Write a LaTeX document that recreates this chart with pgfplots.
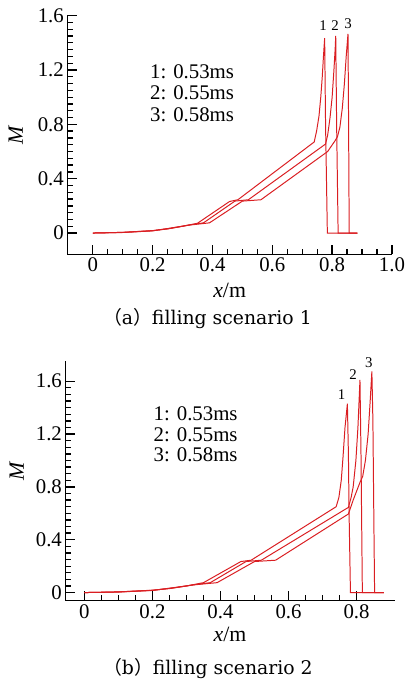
\documentclass[border=0pt]{standalone}
\usepackage{fontspec}
\setmainfont{Liberation Serif}
\newfontfamily\capfont{DejaVu Serif}
\newfontfamily\cjk{Noto Sans CJK SC}
\usepackage{pgfplots}
\pgfplotsset{compat=1.18}

\definecolor{curve}{RGB}{218,30,34}

\pgfplotsset{
  mplot/.style={
    scale only axis,
    anchor=south west,
    clip=false,
    axis line style={line width=1.1pt},
    xtick pos=left, ytick pos=left,
    major tick length=0.35cm, minor tick length=0.2cm,
    every tick/.append style={black, line width=1.3pt},
    minor x tick num=3, minor y tick num=7,
    ytick={0,0.4,0.8,1.2,1.6},
    yticklabels={0,0.4,0.8,1.2,1.6},
    /pgf/number format/assume math mode=true,
    tick label style={font=\fontsize{21}{24}\selectfont},
    label style={font=\fontsize{22}{24}\selectfont},
    xlabel={\textit{x}/m}, ylabel={\textit{M}},
    every axis plot post/.append style={color=curve, line width=1pt, mark=none},
  },
}

\begin{document}
\begin{tikzpicture}
\path (0bp,0bp) rectangle (407bp,682bp);

% (a) filling scenario 1
\begin{axis}[mplot,
  at={(67.7bp,426.3bp)}, width=326.3bp, height=240bp,
  xmin=-0.085, xmax=1.0, ymin=-0.157, ymax=1.6,
  xtick={0,0.2,0.4,0.6,0.8,1.0},
  xticklabels={0,0.2,0.4,0.6,0.8,1.0},
  xlabel style={at={(axis description cs:0.5,0)}, anchor=center, yshift=-36bp},
  ylabel style={at={(axis description cs:0,0.5)}, anchor=center, yshift=52bp},
  axis x line*=bottom, axis y line*=left,
]
\addplot coordinates {(0,0) (0.1,0.005) (0.2,0.018) (0.25,0.03) (0.3,0.05) (0.35,0.072)
  (0.457,0.232) (0.485,0.245) (0.74,0.67) (0.748,0.75) (0.756,0.86) (0.762,1.0)
  (0.767,1.15) (0.771,1.3) (0.775,1.435) (0.778,0.8) (0.784,0) (0.884,0)};
\addplot coordinates {(0,0) (0.1,0.005) (0.2,0.017) (0.26,0.035) (0.3,0.05) (0.33,0.062)
  (0.37,0.075) (0.475,0.235) (0.52,0.245) (0.778,0.655) (0.785,0.72) (0.793,0.85)
  (0.8,1.0) (0.806,1.2) (0.81,1.35) (0.812,1.45) (0.815,0.8) (0.82,0) (0.884,0)};
\addplot coordinates {(0,0) (0.1,0.004) (0.2,0.016) (0.27,0.04) (0.32,0.058) (0.39,0.075)
  (0.50,0.235) (0.562,0.245) (0.785,0.6) (0.81,0.68) (0.818,0.71) (0.826,0.78)
  (0.834,0.92) (0.841,1.1) (0.847,1.3) (0.853,1.466) (0.855,0.8) (0.857,0) (0.884,0)};
\node[font=\fontsize{15}{16}\selectfont] at (axis cs:0.77,1.525) {1};
\node[font=\fontsize{15}{16}\selectfont] at (axis cs:0.81,1.525) {2};
\node[font=\fontsize{15}{16}\selectfont] at (axis cs:0.853,1.54) {3};
\node[align=center, font=\fontsize{21}{21.7}\selectfont] at (axis cs:0.332,1.032)
  {1: 0.53ms\\2: 0.55ms\\3: 0.58ms};
\end{axis}

\node[font=\capfont\fontsize{19}{20}\selectfont] at (208.5bp,362bp)
  {{\cjk （}a{\cjk ）}filling scenario 1};

% (b) filling scenario 2
\begin{axis}[mplot,
  at={(65.7bp,78bp)}, width=331bp, height=240.7bp,
  xmin=-0.056, xmax=0.912, ymin=-0.063, ymax=1.75,
  xtick={0,0.2,0.4,0.6,0.8},
  xticklabels={0,0.2,0.4,0.6,0.8},
  xlabel style={at={(axis description cs:0.5,0)}, anchor=center, yshift=-34bp},
  ylabel style={at={(axis description cs:0,0.5)}, anchor=center, yshift=49bp, xshift=10bp},
  axis x line*=bottom, axis y line*=left,
]
\addplot coordinates {(0,0) (0.1,0.005) (0.2,0.018) (0.25,0.03) (0.3,0.05) (0.35,0.075)
  (0.46,0.235) (0.49,0.245) (0.74,0.65) (0.748,0.72) (0.755,0.85) (0.76,1.02)
  (0.766,1.25) (0.773,1.43) (0.776,1.05) (0.778,0.6) (0.782,0) (0.88,0)};
\addplot coordinates {(0,0) (0.1,0.005) (0.2,0.017) (0.26,0.035) (0.3,0.05) (0.33,0.062)
  (0.37,0.075) (0.475,0.235) (0.52,0.245) (0.776,0.645) (0.784,0.72) (0.79,0.8)
  (0.798,1.0) (0.804,1.25) (0.81,1.61) (0.813,1.05) (0.817,0) (0.88,0)};
\addplot coordinates {(0,0) (0.1,0.004) (0.2,0.016) (0.27,0.04) (0.32,0.058) (0.39,0.075)
  (0.50,0.235) (0.562,0.245) (0.776,0.595) (0.79,0.7) (0.81,0.834) (0.818,0.88)
  (0.826,1.0) (0.834,1.2) (0.84,1.45) (0.845,1.675) (0.848,1.3) (0.851,0.5)
  (0.853,0) (0.88,0)};
\node[font=\fontsize{15}{16}\selectfont] at (axis cs:0.756,1.5) {1};
\node[font=\fontsize{15}{16}\selectfont] at (axis cs:0.79,1.65) {2};
\node[font=\fontsize{15}{16}\selectfont] at (axis cs:0.836,1.74) {3};
\node[align=center, font=\fontsize{21}{20.8}\selectfont] at (axis cs:0.327,1.198)
  {1: 0.53ms\\2: 0.55ms\\3: 0.58ms};
\end{axis}

\node[font=\capfont\fontsize{19}{20}\selectfont] at (209bp,10bp)
  {{\cjk （}b{\cjk ）}filling scenario 2};
\end{tikzpicture}
\end{document}
